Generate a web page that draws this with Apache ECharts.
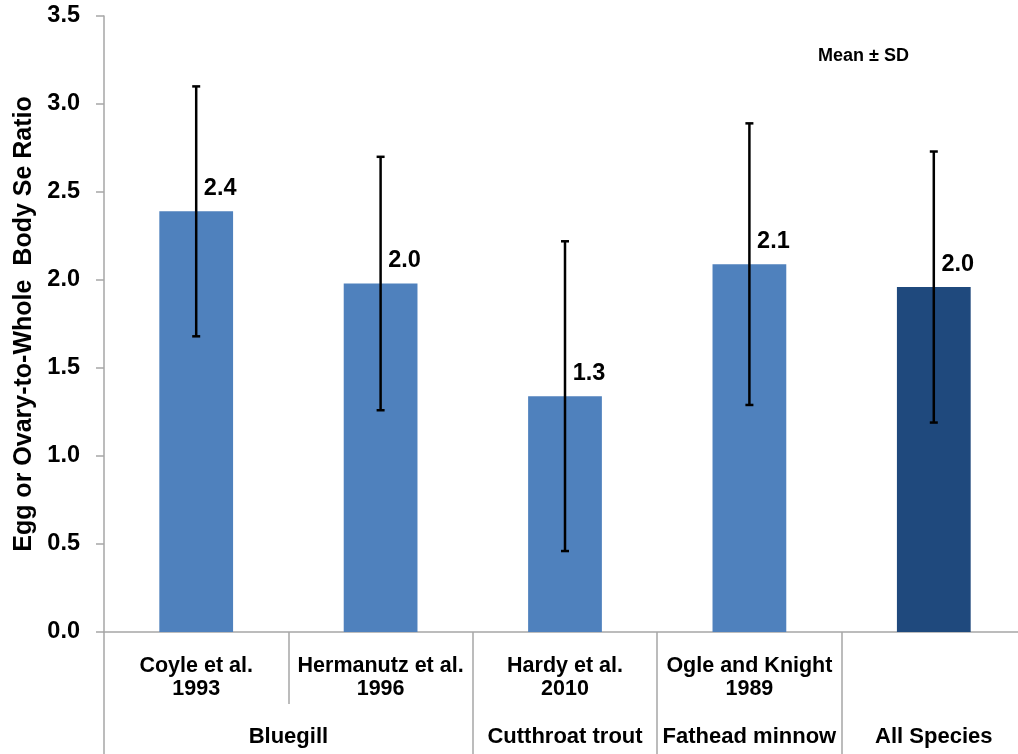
<!DOCTYPE html>
<html>
<head>
<meta charset="utf-8">
<style>
  html, body { margin: 0; padding: 0; background: #fff; }
  #chart { width: 1018px; height: 754px; }
</style>
<script src="https://cdn.jsdelivr.net/npm/echarts@6/dist/echarts.min.js"></script>
</head>
<body>
<div id="chart"></div>
<script>
// Studies (first row of the category axis)
const studies = ['Coyle et al.\n1993', 'Hermanutz et al.\n1996', 'Hardy et al.\n2010', 'Ogle and Knight\n1989', ''];
// Species groups (second row) and the category position at which each group label is centred
const groups = ['Bluegill', 'Cutthroat trout', 'Fathead minnow', 'All Species'];
const groupCentres = [1, 2.5, 3.5, 4.5];
// Group boundaries, in category units
const groupEdges = [0, 2, 3, 4, 5];
// Egg or ovary-to-whole body Se ratio: mean and standard deviation
const means = [2.39, 1.98, 1.34, 2.09, 1.96];
const sds = [0.71, 0.72, 0.88, 0.80, 0.77];
// Y axis
const yTicks = { min: 0, max: 3.5, step: 0.5 };

const FONT = '"Liberation Sans", Arial, sans-serif';
const AXIS_GREY = '#a6a6a6';

const barData = means.map((m, i) => ({
  value: m,
  itemStyle: { color: i === means.length - 1 ? '#1F497D' : '#4F81BD' }
}));
const errData = means.map((m, i) => [i, m - sds[i], m + sds[i]]);

const chart = echarts.init(document.getElementById('chart'), null, { renderer: 'canvas' });

chart.setOption({
  animation: false,
  backgroundColor: '#ffffff',
  title: {
    text: 'Mean \u00b1 SD',
    left: 813,
    top: 42,
    textStyle: { fontFamily: FONT, fontSize: 18, fontWeight: 'bold', color: '#000' }
  },
  grid: { left: 104, right: -8, top: 16, bottom: 122, containLabel: false, outerBoundsMode: 'none' },
  xAxis: [
    {
      type: 'category',
      data: studies,
      position: 'bottom',
      axisLine: { show: true, lineStyle: { color: AXIS_GREY, width: 1.5 } },
      axisTick: { show: true, interval: 0, length: 72, lineStyle: { color: AXIS_GREY, width: 1.5 } },
      axisLabel: {
        interval: 0,
        margin: 23,
        fontFamily: FONT,
        fontSize: 21.5,
        fontWeight: 'bold',
        lineHeight: 23,
        color: '#000'
      }
    },
    {
      type: 'value',
      min: 0,
      max: 5,
      position: 'bottom',
      splitLine: { show: false },
      axisLine: { show: false },
      axisTick: {
        show: true,
        customValues: groupEdges,
        length: 122,
        lineStyle: { color: AXIS_GREY, width: 1.5 }
      },
      axisLabel: {
        customValues: groupCentres,
        margin: 94,
        fontFamily: FONT,
        fontSize: 22,
        fontWeight: 'bold',
        color: '#000',
        formatter: v => groups[groupCentres.indexOf(v)] || ''
      }
    }
  ],
  yAxis: {
    type: 'value',
    min: yTicks.min,
    max: yTicks.max,
    interval: yTicks.step,
    name: 'Egg or Ovary-to-Whole  Body Se Ratio',
    nameLocation: 'middle',
    nameRotate: 90,
    nameGap: 65,
    nameTextStyle: { fontFamily: FONT, fontSize: 25, fontWeight: 'bold', color: '#000' },
    splitLine: { show: false },
    axisLine: { show: true, lineStyle: { color: AXIS_GREY, width: 1.5 } },
    axisTick: { show: true, length: 8, lineStyle: { color: AXIS_GREY, width: 1.5 } },
    axisLabel: {
      margin: 24,
      fontFamily: FONT,
      fontSize: 23.5,
      fontWeight: 'bold',
      color: '#000',
      formatter: v => v.toFixed(1)
    }
  },
  series: [
    {
      type: 'bar',
      xAxisIndex: 0,
      data: barData,
      barWidth: '40%',
      label: {
        show: true,
        position: 'top',
        distance: 5,
        offset: [24, -6],
        fontFamily: FONT,
        fontSize: 23.5,
        fontWeight: 'bold',
        color: '#000',
        formatter: p => p.value.toFixed(1)
      },
      z: 2
    },
    {
      type: 'custom',
      xAxisIndex: 0,
      data: errData,
      z: 5,
      renderItem: (params, api) => {
        const lo = api.coord([api.value(0), api.value(1)]);
        const hi = api.coord([api.value(0), api.value(2)]);
        const cap = 4;
        const style = { stroke: '#000', lineWidth: 2.5 };
        return {
          type: 'group',
          children: [
            { type: 'line', shape: { x1: hi[0], y1: hi[1], x2: lo[0], y2: lo[1] }, style },
            { type: 'line', shape: { x1: hi[0] - cap, y1: hi[1], x2: hi[0] + cap, y2: hi[1] }, style },
            { type: 'line', shape: { x1: lo[0] - cap, y1: lo[1], x2: lo[0] + cap, y2: lo[1] }, style }
          ]
        };
      }
    }
  ]
});
</script>
</body>
</html>
